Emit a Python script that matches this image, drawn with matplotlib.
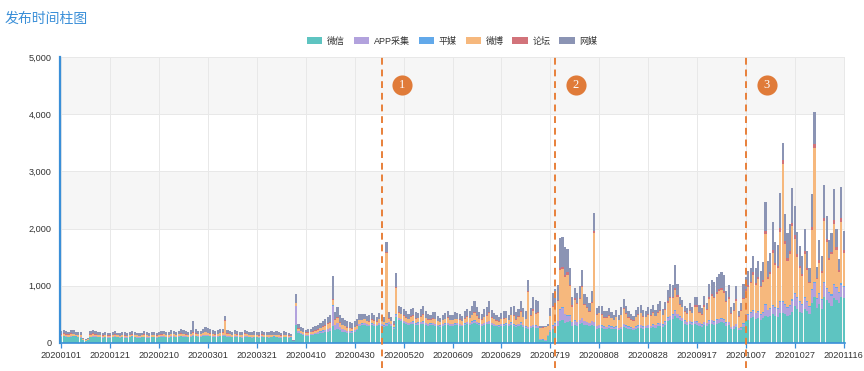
import numpy as np
import pandas as pd
import matplotlib
matplotlib.use("Agg")
import matplotlib.pyplot as plt  # noqa: E402
from matplotlib.patches import Patch  # noqa: E402
from matplotlib.transforms import offset_copy  # noqa: E402

plt.rcParams["font.family"] = ["Liberation Sans", "Noto Sans CJK SC", "DejaVu Sans"]

# daily categories 20200101 .. 20201116
dates = pd.date_range("2020-01-01", "2020-11-16").strftime("%Y%m%d").tolist()

# values, one row = 20 days
weixin = [
    105, 115, 110, 100, 110, 118, 105, 100, 95, 45, 35, 50, 100, 112, 105, 100, 98, 92, 100, 95,
    95, 100, 105, 98, 92, 100, 95, 90, 98, 105, 100, 95, 92, 98, 100, 95, 90, 98, 100, 95,
    100, 105, 110, 100, 95, 105, 110, 100, 105, 115, 110, 105, 100, 110, 120, 115, 110, 105, 120, 125,
    120, 115, 110, 105, 110, 115, 120, 125, 110, 105, 100, 110, 105, 100, 95, 110, 105, 100, 95, 100,
    100, 95, 105, 100, 98, 95, 100, 105, 100, 95, 92, 98, 100, 95, 90, 30, 320, 180, 150, 140,
    130, 125, 135, 140, 150, 160, 170, 180, 190, 200, 210, 300, 230, 250, 220, 200, 190, 180, 175, 170,
    200, 220, 300, 310, 320, 300, 290, 310, 300, 290, 320, 300, 280, 300, 330, 300, 250, 450, 400, 380,
    350, 340, 320, 330, 340, 310, 320, 330, 340, 320, 300, 310, 320, 300, 290, 280, 300, 310, 320, 300,
    300, 310, 320, 300, 290, 310, 330, 320, 340, 350, 330, 310, 300, 320, 330, 340, 320, 300, 290, 280,
    300, 290, 310, 300, 320, 290, 280, 300, 320, 280, 260, 250, 260, 280, 270, 260, 60, 50, 40, 120,
    200, 250, 280, 300, 380, 400, 350, 360, 380, 300, 320, 300, 330, 350, 320, 310, 300, 320, 300, 250,
    270, 260, 250, 240, 260, 250, 240, 250, 230, 240, 280, 260, 250, 240, 230, 250, 260, 270, 250, 260,
    270, 260, 280, 270, 290, 300, 280, 320, 380, 400, 420, 480, 430, 400, 380, 340, 320, 330, 310, 330,
    320, 300, 280, 310, 300, 330, 340, 320, 340, 350, 360, 350, 300, 310, 240, 250, 280, 220, 230, 280,
    420, 400, 430, 450, 420, 440, 400, 430, 480, 450, 470, 500, 480, 460, 520, 530, 500, 480, 490, 540,
    650, 600, 550, 520, 600, 560, 500, 700, 800, 620, 680, 600, 800, 750, 700, 650, 780, 760, 700, 800,
    780,
]
app = [
    10, 12, 10, 10, 12, 10, 8, 8, 8, 4, 3, 5, 10, 10, 10, 8, 10, 8, 10, 8,
    8, 8, 10, 8, 8, 10, 8, 8, 10, 8, 8, 10, 8, 8, 10, 8, 8, 10, 8, 8,
    10, 10, 12, 10, 8, 10, 12, 10, 10, 12, 10, 10, 8, 10, 12, 10, 10, 10, 12, 12,
    12, 10, 10, 10, 10, 12, 12, 10, 10, 10, 8, 10, 10, 8, 8, 10, 10, 8, 8, 10,
    10, 8, 10, 8, 10, 8, 10, 8, 10, 8, 8, 10, 8, 8, 6, 2, 320, 25, 20, 18,
    15, 15, 18, 20, 22, 25, 30, 35, 40, 45, 50, 350, 80, 100, 60, 40, 35, 30, 30, 28,
    25, 25, 30, 30, 30, 28, 25, 30, 28, 25, 30, 28, 25, 30, 30, 25, 20, 40, 35, 35,
    35, 30, 30, 35, 30, 30, 35, 30, 35, 30, 30, 30, 30, 30, 25, 25, 30, 30, 30, 30,
    30, 30, 30, 30, 25, 30, 30, 30, 35, 40, 35, 30, 30, 30, 35, 40, 30, 30, 25, 25,
    30, 30, 30, 25, 35, 30, 25, 30, 35, 30, 25, 25, 30, 30, 30, 30, 10, 8, 8, 15,
    30, 50, 60, 80, 200, 220, 150, 120, 100, 60, 70, 60, 70, 80, 60, 50, 50, 60, 60, 40,
    40, 40, 35, 35, 40, 35, 30, 35, 30, 35, 45, 40, 35, 30, 30, 35, 40, 40, 35, 35,
    40, 35, 40, 40, 45, 50, 40, 50, 60, 70, 70, 80, 70, 60, 55, 50, 45, 50, 45, 50,
    50, 45, 40, 50, 45, 55, 60, 55, 60, 65, 65, 60, 50, 55, 40, 40, 50, 35, 40, 55,
    80, 90, 100, 110, 100, 110, 90, 100, 180, 120, 120, 150, 140, 130, 200, 180, 160, 140, 150, 200,
    200, 180, 160, 150, 180, 150, 130, 230, 250, 150, 180, 160, 250, 200, 180, 180, 230, 200, 180, 220,
    200,
]
pingmei = [
    2, 3, 2, 2, 3, 2, 2, 2, 2, 1, 1, 1, 2, 3, 2, 2, 2, 2, 3, 2,
    2, 2, 3, 2, 2, 2, 2, 2, 3, 2, 2, 2, 2, 2, 3, 2, 2, 2, 2, 2,
    2, 3, 2, 2, 2, 3, 2, 2, 2, 3, 2, 2, 2, 3, 4, 2, 2, 2, 3, 3,
    3, 2, 2, 2, 2, 3, 3, 4, 2, 2, 2, 2, 2, 2, 2, 3, 2, 2, 2, 2,
    2, 2, 3, 2, 2, 2, 3, 2, 2, 2, 2, 3, 2, 2, 2, 1, 8, 3, 3, 3,
    3, 3, 3, 3, 4, 4, 4, 5, 5, 5, 5, 10, 5, 6, 5, 5, 4, 4, 4, 4,
    4, 5, 5, 5, 5, 5, 5, 5, 5, 5, 5, 5, 5, 15, 5, 5, 4, 10, 6, 6,
    6, 5, 5, 6, 6, 5, 5, 6, 6, 5, 5, 5, 5, 5, 5, 4, 5, 5, 6, 5,
    5, 5, 5, 5, 5, 5, 6, 5, 6, 8, 6, 5, 5, 6, 6, 8, 5, 5, 5, 5,
    5, 6, 5, 5, 6, 8, 5, 6, 8, 6, 6, 10, 6, 8, 8, 8, 4, 4, 4, 5,
    6, 8, 8, 10, 15, 15, 15, 15, 12, 8, 10, 8, 10, 12, 8, 8, 6, 8, 15, 6,
    6, 6, 5, 5, 6, 5, 5, 5, 5, 6, 8, 6, 5, 5, 5, 5, 6, 6, 5, 5,
    6, 5, 6, 5, 6, 8, 5, 6, 8, 10, 10, 12, 10, 8, 6, 5, 5, 6, 5, 8,
    8, 6, 6, 8, 6, 10, 10, 10, 12, 12, 12, 12, 10, 10, 6, 8, 10, 6, 8, 10,
    12, 12, 12, 15, 12, 14, 12, 14, 20, 14, 15, 20, 16, 16, 22, 25, 20, 18, 20, 22,
    22, 20, 16, 15, 20, 16, 12, 22, 25, 12, 16, 15, 22, 20, 16, 18, 22, 20, 14, 22,
    20,
]
weibo = [
    30, 35, 25, 30, 35, 30, 25, 30, 28, 12, 10, 12, 30, 35, 28, 25, 30, 25, 28, 25,
    25, 28, 30, 25, 22, 30, 25, 22, 28, 30, 25, 28, 22, 25, 30, 28, 25, 30, 28, 25,
    25, 30, 28, 25, 30, 35, 30, 28, 32, 35, 30, 28, 30, 35, 40, 35, 30, 35, 40, 45,
    40, 35, 30, 30, 35, 40, 45, 250, 40, 35, 30, 35, 30, 28, 30, 40, 35, 30, 28, 30,
    28, 25, 30, 28, 25, 30, 28, 25, 30, 28, 25, 30, 28, 25, 20, 5, 50, 40, 35, 30,
    30, 35, 30, 35, 40, 45, 50, 60, 70, 80, 90, 100, 90, 80, 70, 65, 60, 55, 50, 50,
    50, 55, 60, 55, 60, 50, 55, 60, 55, 50, 60, 55, 50, 1220, 60, 55, 45, 460, 90, 80,
    80, 70, 60, 90, 100, 80, 70, 90, 110, 80, 70, 60, 70, 80, 60, 50, 60, 70, 80, 60,
    60, 70, 60, 70, 60, 80, 90, 80, 100, 130, 100, 80, 70, 90, 100, 140, 90, 80, 70, 60,
    80, 100, 90, 70, 120, 150, 100, 120, 180, 130, 120, 600, 180, 250, 200, 220, 180, 200, 220, 150,
    230, 330, 330, 340, 680, 650, 640, 700, 500, 270, 360, 320, 360, 530, 280, 250, 190, 310, 1550, 190,
    200, 180, 150, 160, 170, 140, 120, 160, 130, 200, 260, 200, 150, 130, 120, 160, 180, 200, 170, 150,
    180, 170, 200, 150, 180, 200, 160, 200, 260, 300, 280, 360, 300, 200, 180, 150, 140, 180, 160, 250,
    260, 180, 170, 270, 220, 380, 420, 400, 450, 480, 490, 460, 350, 400, 220, 260, 400, 200, 280, 420,
    400, 480, 500, 620, 480, 550, 470, 520, 1220, 540, 600, 900, 730, 700, 1200, 2400, 1050, 800, 900, 1280,
    950, 700, 580, 480, 750, 550, 400, 1020, 2330, 330, 530, 450, 1060, 800, 550, 700, 1050, 650, 350, 1080,
    580,
]
luntan = [
    8, 8, 6, 8, 8, 6, 6, 6, 6, 3, 3, 3, 8, 8, 6, 6, 6, 5, 6, 5,
    5, 6, 6, 5, 5, 6, 6, 5, 6, 6, 5, 6, 5, 5, 6, 6, 5, 6, 6, 5,
    6, 6, 6, 5, 6, 6, 6, 5, 6, 6, 6, 5, 6, 6, 8, 6, 6, 6, 8, 8,
    8, 6, 6, 6, 6, 8, 8, 15, 6, 6, 6, 6, 6, 5, 5, 6, 6, 5, 5, 6,
    6, 5, 6, 5, 6, 5, 6, 5, 6, 5, 5, 6, 5, 5, 4, 1, 10, 8, 6, 6,
    6, 6, 6, 8, 8, 8, 10, 10, 10, 12, 12, 15, 12, 12, 10, 10, 10, 8, 8, 8,
    8, 8, 10, 10, 10, 8, 8, 10, 8, 8, 10, 8, 8, 30, 10, 8, 6, 20, 12, 10,
    10, 10, 8, 10, 12, 10, 8, 10, 12, 10, 8, 8, 10, 10, 8, 8, 8, 10, 10, 8,
    8, 10, 8, 8, 8, 10, 10, 10, 12, 15, 12, 10, 8, 10, 12, 15, 10, 8, 8, 8,
    10, 10, 10, 8, 12, 15, 10, 12, 18, 12, 12, 20, 15, 20, 18, 18, 10, 10, 10, 10,
    10, 15, 15, 20, 40, 40, 40, 40, 30, 20, 20, 20, 20, 30, 20, 20, 15, 20, 40, 15,
    15, 15, 12, 12, 15, 12, 10, 12, 10, 15, 20, 15, 12, 10, 10, 12, 15, 15, 12, 12,
    15, 12, 15, 12, 15, 18, 12, 15, 20, 25, 25, 30, 25, 18, 15, 12, 12, 15, 12, 20,
    20, 15, 15, 20, 15, 25, 30, 25, 30, 30, 35, 30, 25, 25, 15, 20, 30, 15, 20, 25,
    30, 30, 30, 40, 30, 35, 30, 35, 50, 35, 40, 50, 40, 40, 60, 70, 50, 45, 50, 60,
    60, 50, 40, 40, 50, 40, 30, 60, 70, 30, 40, 40, 60, 50, 40, 45, 60, 50, 30, 60,
    50,
]
wangmei = [
    60, 55, 65, 50, 60, 55, 50, 55, 50, 25, 20, 25, 60, 55, 60, 50, 45, 40, 45, 45,
    45, 50, 55, 45, 40, 50, 55, 45, 50, 55, 45, 40, 50, 45, 55, 50, 45, 50, 55, 48,
    55, 60, 50, 55, 60, 65, 55, 50, 60, 70, 65, 60, 55, 65, 200, 70, 60, 55, 65, 80,
    75, 70, 65, 60, 65, 70, 60, 60, 65, 60, 55, 60, 55, 50, 55, 65, 60, 55, 50, 55,
    55, 50, 60, 55, 50, 55, 60, 50, 55, 60, 50, 55, 50, 45, 40, 8, 150, 80, 70, 60,
    50, 55, 60, 65, 70, 80, 90, 100, 110, 120, 130, 400, 120, 180, 120, 110, 100, 100, 95, 90,
    90, 100, 110, 100, 90, 80, 100, 110, 90, 80, 100, 90, 80, 170, 110, 60, 60, 250, 110, 110,
    110, 100, 90, 130, 120, 100, 90, 120, 150, 110, 90, 80, 100, 110, 90, 70, 80, 100, 120, 90,
    90, 110, 100, 90, 80, 120, 130, 110, 150, 190, 140, 110, 100, 130, 140, 200, 120, 100, 90, 80,
    100, 120, 110, 90, 140, 160, 120, 130, 170, 150, 140, 200, 120, 220, 230, 200, 30, 20, 20, 40,
    140, 225, 245, 260, 520, 520, 480, 400, 290, 150, 190, 170, 200, 280, 170, 170, 145, 190, 300, 105,
    120, 140, 110, 100, 120, 100, 80, 120, 90, 130, 160, 120, 100, 90, 80, 110, 120, 130, 110, 100,
    120, 110, 130, 100, 140, 150, 100, 130, 190, 220, 210, 400, 190, 120, 110, 90, 90, 120, 100, 150,
    150, 110, 95, 170, 120, 230, 250, 250, 270, 275, 280, 280, 175, 220, 105, 130, 220, 80, 130, 250,
    220, 250, 240, 280, 270, 285, 260, 315, 520, 275, 320, 500, 360, 370, 620, 300, 480, 435, 470, 610,
    520, 390, 350, 310, 400, 300, 240, 580, 570, 180, 350, 250, 570, 400, 310, 325, 550, 320, 190, 550,
    330,
]

names = ["微信", "APP采集", "平媒", "微博", "论坛", "网媒"]
colors = ["#5ec4c1", "#b2a2dd", "#62a9ea", "#f6b87d", "#d2737a", "#8b94b4"]
events = ["20200511", "20200721", "20201007"]
event_labels = ["1", "2", "3"]

series = [weixin, app, pingmei, weibo, luntan, wangmei]
for s in series:
    assert len(s) == len(dates), len(s)

blue = "#3a8fd8"
x = np.arange(len(dates))

fig = plt.figure(figsize=(8.64, 3.71), dpi=100)
ax = fig.add_axes([60 / 864, 1 - 343 / 371, 785 / 864, 286 / 371])

# alternating horizontal bands like echarts splitArea
for lo in (0, 2000, 4000):
    ax.axhspan(lo, lo + 1000, color="#f6f6f6", zorder=0, lw=0)

bottom = np.zeros(len(dates))
for name, vals, c in zip(names, series, colors):
    vals = np.array(vals, dtype=float)
    ax.bar(x, vals, width=0.88, bottom=bottom, color=c, linewidth=0, zorder=2)
    bottom += vals

ax.set_xlim(-0.5, len(dates) - 0.5)
ax.set_ylim(0, 5000)
ax.set_yticks(range(0, 5001, 1000))
ax.set_yticklabels([f"{v:,}" for v in range(0, 5001, 1000)])
ax.set_xticks(x[::20])
ax.set_xticklabels(dates[::20])
ax.grid(True, color="#e8e8e8", lw=0.7, zorder=1)
ax.set_axisbelow(True)
for side in ("top", "right"):
    ax.spines[side].set_visible(False)
ax.spines["left"].set_color(blue)
ax.spines["left"].set_linewidth(1.6)
ax.spines["bottom"].set_color(blue)
ax.spines["bottom"].set_linewidth(1.2)
ax.tick_params(axis="y", length=0, pad=6, labelsize=6.6, labelcolor="#333333")
ax.tick_params(axis="x", length=3.5, width=0.9, color=blue, pad=2,
               labelsize=6.6, labelcolor="#333333")

# event markers: dashed lines + numbered circles
ev_trans = offset_copy(ax.transData, fig=fig, x=15, y=0, units="points")
for d, lab in zip(events, event_labels):
    i = dates.index(d)
    ax.plot([i, i], [-440, 5000], ls=(0, (3.5, 2.5)), color="#e8803a", lw=1.4,
            clip_on=False, zorder=4)
    ax.scatter([i], [4510], s=210, color="#e07b39", transform=ev_trans,
               zorder=5, clip_on=False, linewidths=0)
    ax.text(i, 4510, lab, transform=ev_trans, color="white", fontsize=9,
            ha="center", va="center", family=["Liberation Serif"], zorder=6)

handles = [Patch(facecolor=c, edgecolor="none") for c in colors]
fig.legend(handles, names, loc="center", bbox_to_anchor=(452 / 864, 1 - 41 / 371),
           ncol=6, frameon=False, fontsize=6.5, handlelength=1.7, handleheight=0.9,
           handletextpad=0.5, columnspacing=1.0, labelcolor="#333333")

fig.text(5 / 864, 1 - 19 / 371, "发布时间柱图", color=blue, fontsize=10, va="center",
         ha="left", family=["Noto Sans CJK SC"])

fig.savefig("out.png", dpi=100)
